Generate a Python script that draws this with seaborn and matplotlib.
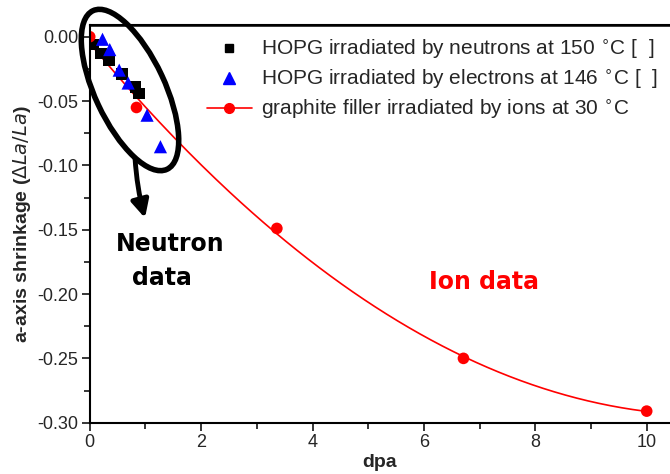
import numpy as np
import pandas as pd
import matplotlib
matplotlib.use("Agg")
import matplotlib.pyplot as plt
import seaborn as sns
from matplotlib.patches import Ellipse
from matplotlib.transforms import IdentityTransform
from matplotlib.ticker import MultipleLocator, FormatStrFormatter

# --- data ---
neutron_dpa = [0.07, 0.20, 0.35, 0.58, 0.82, 0.88]
neutron_shrink = [-0.006, -0.013, -0.018, -0.029, -0.039, -0.044]

electron_dpa = [0.23, 0.36, 0.53, 0.69, 1.03, 1.27]
electron_shrink = [-0.002, -0.010, -0.026, -0.036, -0.061, -0.0855]

ion_dpa = [0.0, 0.84, 3.36, 6.71, 10.0]
ion_shrink = [0.0, -0.055, -0.149, -0.250, -0.291]

labels = [
    r"HOPG irradiated by neutrons at 150 $^{\circ}$C [  ]",
    r"HOPG irradiated by electrons at 146 $^{\circ}$C [  ]",
    r"graphite filler irradiated by ions at 30 $^{\circ}$C",
]

sns.set_style("ticks")
plt.rcParams["font.family"] = ["Liberation Sans", "DejaVu Sans"]
plt.rcParams["mathtext.fontset"] = "dejavusans"

fig = plt.figure(figsize=(6.7, 4.74), dpi=100)
ax = fig.add_axes([89.7 / 670, (474 - 422.7) / 474, 1 - 89.7 / 670, (422.7 - 25) / 474])

# fit curve through the ion points (quadratic, like the original fit)
coef = np.polyfit(ion_dpa, ion_shrink, 2)
fit = pd.DataFrame({"dpa": np.linspace(0, 10, 200)})
fit["shrink"] = np.polyval(coef, fit["dpa"])
sns.lineplot(data=fit, x="dpa", y="shrink", color="red", lw=1.2, ax=ax, zorder=2)

sns.scatterplot(x=ion_dpa, y=ion_shrink, color="red", marker="o", s=70,
                edgecolor="none", ax=ax, zorder=4)
sns.scatterplot(x=neutron_dpa, y=neutron_shrink, color="black", marker="s", s=70,
                edgecolor="none", ax=ax, zorder=3)
sns.scatterplot(x=electron_dpa, y=electron_shrink, color="blue", marker="^", s=90,
                edgecolor="none", ax=ax, zorder=5)

# legend built by hand
h1 = plt.Line2D([], [], ls="none", marker="s", color="black", ms=6)
h2 = plt.Line2D([], [], ls="none", marker="^", color="blue", ms=8)
h3 = plt.Line2D([], [], ls="-", lw=1.2, marker="o", color="red", ms=7)
ax.legend([h1, h2, h3], labels, loc="upper right", bbox_to_anchor=(1.0, 1.0),
          frameon=False, fontsize=15, handlelength=2.2, handletextpad=0.4,
          labelspacing=0.33, borderaxespad=0.2)

ax.set_xlim(0, (670 - 89.7) / 55.7)
ax.set_ylim(-0.30, (36.7 - 25) / 1286)
ax.xaxis.set_major_locator(MultipleLocator(2))
ax.xaxis.set_minor_locator(MultipleLocator(1))
ax.yaxis.set_major_locator(MultipleLocator(0.05))
ax.yaxis.set_minor_locator(MultipleLocator(0.025))
ax.yaxis.set_major_formatter(FormatStrFormatter("%.2f"))
ax.tick_params(which="major", direction="out", length=6, width=1.3, labelsize=13, pad=2)
ax.tick_params(which="minor", direction="out", length=4, width=1.3)
for s in ["left", "bottom", "top"]:
    ax.spines[s].set_visible(True)
    ax.spines[s].set_linewidth(1.5)
    ax.spines[s].set_color("black")
    ax.spines[s].set_zorder(10)
ax.spines["right"].set_visible(False)
# frame line along the top edge (kept visible above everything)
ax.plot([0, 1], [1, 1], transform=ax.transAxes, color="black", lw=1.8,
        clip_on=False, zorder=10)

ax.set_xlabel("dpa", fontsize=14, fontweight="bold", labelpad=2)
ax.set_ylabel(r"a-axis shrinkage ($\Delta La/La$)", fontsize=14, fontweight="bold", labelpad=3)

# annotations: ellipse around neutron data, arrow and texts
ell = Ellipse((130, 474 - 90), width=175, height=70, angle=-65, fill=False,
              lw=4, ec="black", transform=IdentityTransform(), clip_on=False, zorder=6)
fig.add_artist(ell)
ax.annotate("", xy=(145, 474 - 218), xytext=(135, 474 - 158), xycoords="figure pixels",
            textcoords="figure pixels",
            arrowprops=dict(arrowstyle="-|>", lw=3.5, color="black", mutation_scale=26,
                            shrinkA=0, shrinkB=0, connectionstyle="arc3,rad=0.05"))
fig.text(170 / 670, 1 - 244 / 474, "Neutron", ha="center", va="center",
         fontsize=17, fontweight="bold", color="black", family=["DejaVu Sans"])
fig.text(162 / 670, 1 - 278 / 474, "data", ha="center", va="center",
         fontsize=17, fontweight="bold", color="black", family=["DejaVu Sans"])
fig.text(484 / 670, 1 - 282 / 474, "Ion data", ha="center", va="center",
         fontsize=17, fontweight="bold", color="red", family=["DejaVu Sans"])

fig.savefig("out.png", dpi=100)
plt.close()
